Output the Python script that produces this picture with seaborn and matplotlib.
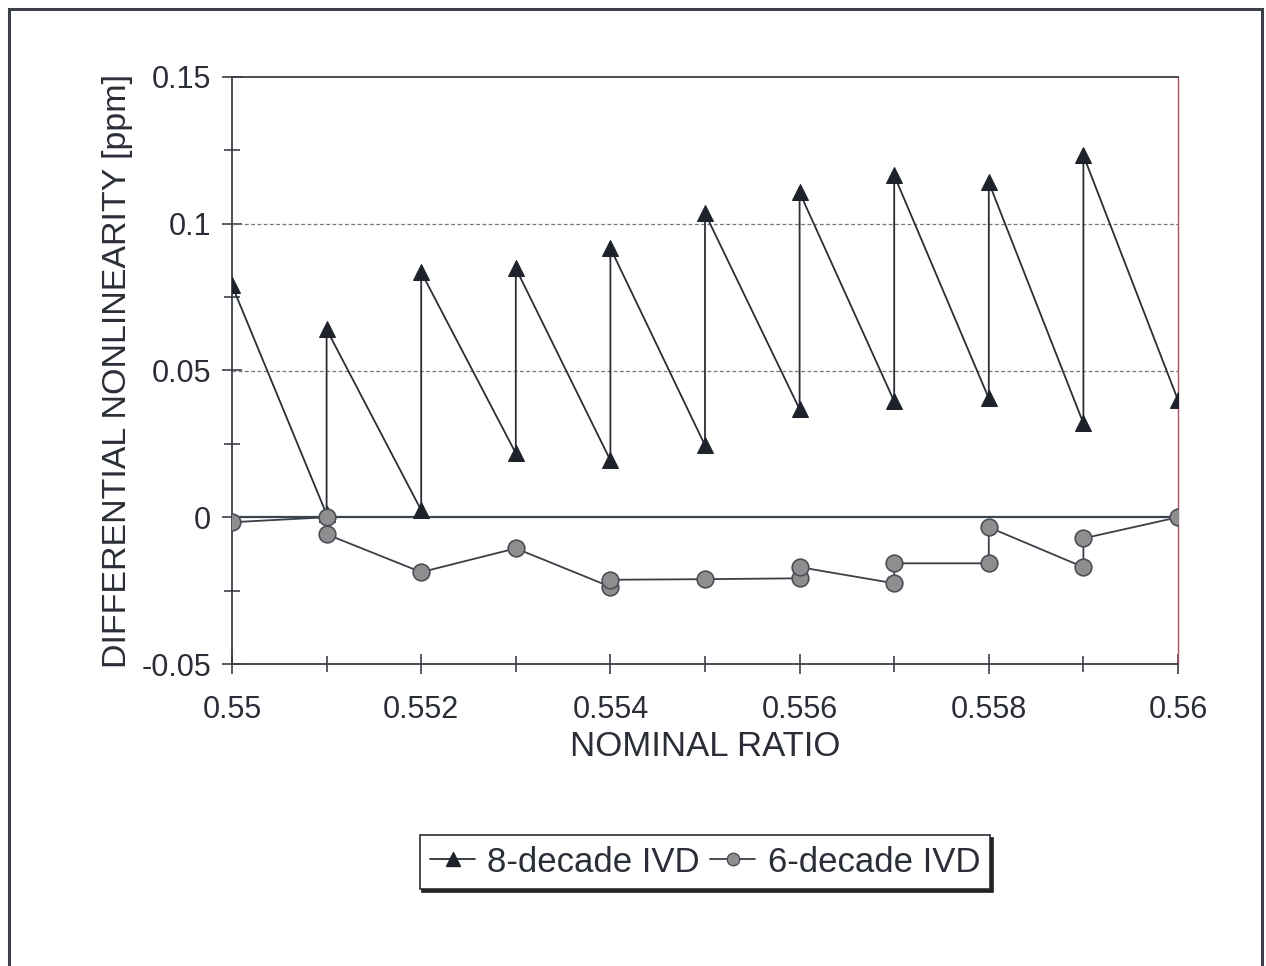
import matplotlib
matplotlib.use("Agg")
import matplotlib.pyplot as plt
import seaborn as sns
import pandas as pd
from matplotlib.patches import Rectangle
from matplotlib.lines import Line2D
from matplotlib.ticker import MultipleLocator, FixedLocator, FuncFormatter

# ---- data ----
x8 = [0.550, 0.551, 0.551, 0.552, 0.552, 0.553, 0.553, 0.554, 0.554, 0.555,
      0.555, 0.556, 0.556, 0.557, 0.557, 0.558, 0.558, 0.559, 0.559, 0.560]
y8 = [0.079, 0.001, 0.064, 0.0024, 0.0835, 0.0218, 0.0848, 0.0194, 0.0917, 0.0245,
      0.1036, 0.0368, 0.1107, 0.0395, 0.1165, 0.0405, 0.1141, 0.032, 0.1233, 0.0399]

x6 = [0.550, 0.551, 0.551, 0.552, 0.553, 0.554, 0.554, 0.555, 0.556, 0.556,
      0.557, 0.557, 0.558, 0.558, 0.559, 0.559, 0.560]
y6 = [-0.0017, 0.0, -0.0058, -0.0187, -0.0106, -0.0237, -0.0213, -0.0211, -0.0208, -0.0170,
      -0.0225, -0.0157, -0.0157, -0.0034, -0.0170, -0.0072, 0.0]

series_names = ["8-decade IVD", "6-decade IVD"]
x_label = "NOMINAL RATIO"
y_label = "DIFFERENTIAL NONLINEARITY [ppm]"

df8 = pd.DataFrame({"x": x8, "y": y8})
df6 = pd.DataFrame({"x": x6, "y": y6})

sns.set_theme(style="white")
plt.rcParams["font.family"] = ["Liberation Sans", "DejaVu Sans"]

fig = plt.figure(figsize=(12.66, 9.66), dpi=100)
ax = fig.add_axes([232 / 1266, 1 - 664 / 966, (1178 - 232) / 1266, (664 - 77) / 966])

# outer frame
fig.patches.append(Rectangle((9 / 1266, -0.01), (1262 - 9) / 1266, 1 - 9 / 966 + 0.01,
                             transform=fig.transFigure, fill=False,
                             edgecolor="#3a3f48", linewidth=2.2, zorder=0))

ax.set_xlim(0.55, 0.56)
ax.set_ylim(-0.05, 0.15)

# gridlines and zero line
for g in [0.05, 0.1]:
    ax.axhline(g, color="#777777", linestyle=(0, (3, 2)), linewidth=0.9, zorder=1)
ax.axhline(0, color="#3a4550", linewidth=1.6, zorder=1)

sns.lineplot(data=df8, x="x", y="y", sort=False, estimator=None, ax=ax,
             color="#2a2e36", linewidth=1.3, marker="^", markersize=12,
             markeredgecolor="#1e222a", markerfacecolor="#1e222a", zorder=3)
sns.lineplot(data=df6, x="x", y="y", sort=False, estimator=None, ax=ax,
             color="#3a3f48", linewidth=1.3, marker="o", markersize=12,
             markeredgecolor="#4a4f58", markerfacecolor="#8e8e8e",
             markeredgewidth=1.2, zorder=3)

# spines
for s in ["left", "bottom", "top"]:
    ax.spines[s].set_color("#3a3f48")
    ax.spines[s].set_linewidth(1.3)
ax.spines["right"].set_color("#b05060")
ax.spines["right"].set_linewidth(1.0)

# ticks
ax.xaxis.set_major_locator(FixedLocator([0.550, 0.552, 0.554, 0.556, 0.558, 0.560]))
ax.xaxis.set_minor_locator(FixedLocator([0.551, 0.553, 0.555, 0.557, 0.559]))
ax.yaxis.set_major_locator(MultipleLocator(0.05))
ax.yaxis.set_minor_locator(MultipleLocator(0.025))

def fmt(v, pos):
    s = f"{v:.3f}".rstrip("0").rstrip(".")
    if s in ("-0", ""):
        s = "0"
    return s

ax.xaxis.set_major_formatter(FuncFormatter(fmt))
ax.yaxis.set_major_formatter(FuncFormatter(fmt))
ax.tick_params(axis="both", which="major", direction="inout", length=14, width=1.2,
               color="#3a3f48", labelsize=22, labelcolor="#2a2e36", pad=8)
ax.tick_params(axis="both", which="minor", direction="inout", length=11, width=1.2,
               color="#3a3f48")
ax.tick_params(axis="x", which="both", bottom=True, top=False)
ax.tick_params(axis="y", which="both", left=True, right=False)
ax.tick_params(axis="x", which="major", pad=15)

ax.set_xlabel(x_label, fontsize=25, color="#2a2e36", labelpad=4)
ax.set_ylabel(y_label, fontsize=24.5, color="#2a2e36", labelpad=6)

# legend with shadow
handles = [
    Line2D([], [], color="#2a2e36", linewidth=1.3, marker="^", markersize=10,
           markerfacecolor="#1e222a", markeredgecolor="#1e222a"),
    Line2D([], [], color="#3a3f48", linewidth=1.3, marker="o", markersize=9,
           markerfacecolor="#8e8e8e", markeredgecolor="#4a4f58"),
]
leg = fig.legend(handles, series_names, loc="center", bbox_to_anchor=(705 / 1266, 1 - 862 / 966),
                 ncol=2, fontsize=25, frameon=True, fancybox=False, shadow={"color": "#222222", "alpha": 1.0},
                 handlelength=1.3, handletextpad=0.35, columnspacing=0.3, borderpad=0.3,
                 edgecolor="#2a2e36", labelcolor="#2a2e36")
leg.get_frame().set_linewidth(1.2)

fig.savefig("out.png", dpi=100, facecolor="white")
